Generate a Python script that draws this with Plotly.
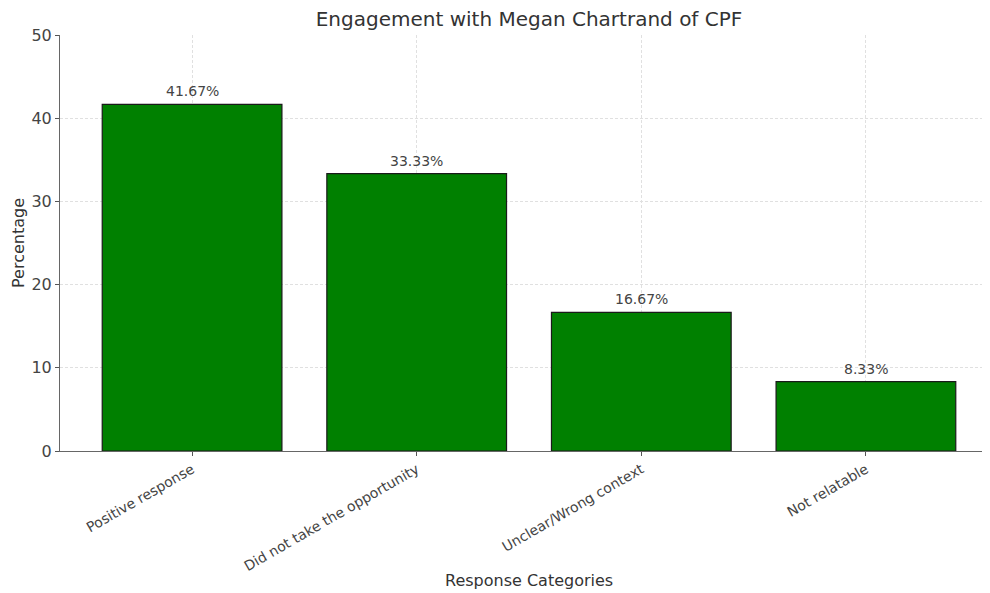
import plotly.graph_objects as go

categories = ["Positive response", "Did not take the opportunity", "Unclear/Wrong context", "Not relatable"]
percentages = [41.67, 33.33, 16.67, 8.33]
value_labels = ["41.67%", "33.33%", "16.67%", "8.33%"]
y_ticks = [0, 10, 20, 30, 40, 50]

FONT = "DejaVu Sans"
# the page body adds an 8px offset; figure coordinates below compensate for it
OFF = 8
W, H = 990, 593
L, R, T, B = 60 - OFF, 0, 35 - OFF, H - (451 - OFF)

fig = go.Figure()
fig.add_trace(go.Bar(
    x=list(range(len(categories))),
    y=percentages,
    width=0.8,
    marker=dict(color="#008000", line=dict(color="#1a1a1a", width=1.2)),
    hoverinfo="skip",
))

for i, (v, t) in enumerate(zip(percentages, value_labels)):
    fig.add_annotation(x=i, y=v, text=t, showarrow=False, yanchor="bottom",
                       yshift=3, font=dict(family=FONT, size=14, color="#444444"))

pw = W - L - R
ph = H - T - B
fig.add_annotation(text="Response Categories", xref="paper", yref="paper",
                   x=(529 - OFF - L) / pw, y=-(580 - OFF - (H - B)) / ph,
                   xanchor="center", yanchor="middle",
                   showarrow=False, font=dict(family=FONT, size=16, color="#333333"))
fig.add_annotation(text="Percentage", xref="paper", yref="paper",
                   x=-(L - (18 - OFF)) / pw, y=(H - B - (243 - OFF)) / ph,
                   xanchor="center", yanchor="middle",
                   textangle=-90, showarrow=False, font=dict(family=FONT, size=16, color="#333333"))

fig.update_layout(
    width=W, height=H,
    margin=dict(l=L, r=R, t=T, b=B, autoexpand=False),
    paper_bgcolor="white", plot_bgcolor="white",
    showlegend=False,
    title=dict(text="Engagement with Megan Chartrand of CPF", x=(529 - OFF) / W, xref="container",
               xanchor="center", y=1 - (19 - OFF) / H, yref="container", yanchor="middle",
               font=dict(family=FONT, size=20, color="#333333"), automargin=False),
    font=dict(family=FONT, color="#444444"),
)

fig.update_xaxes(
    range=[-0.588, 3.588], automargin=False,
    tickmode="array", tickvals=list(range(len(categories))), ticktext=categories,
    tickangle=-30, tickfont=dict(family=FONT, size=14, color="#444444"),
    ticks="outside", ticklen=4, tickcolor="#555555",
    showline=True, linecolor="#666666", linewidth=1,
    showgrid=True, gridcolor="#e0e0e0", griddash="3px,2px", gridwidth=1,
    layer="above traces", zeroline=False,
)
fig.update_yaxes(
    range=[0, 50], automargin=False,
    tickmode="array", tickvals=y_ticks,
    tickfont=dict(family=FONT, size=16, color="#444444"),
    ticks="outside", ticklen=4, tickcolor="#555555",
    showline=True, linecolor="#666666", linewidth=1,
    showgrid=True, gridcolor="#e0e0e0", griddash="3px,2px", gridwidth=1,
    layer="above traces", zeroline=False,
)

fig.write_html("out.html")
